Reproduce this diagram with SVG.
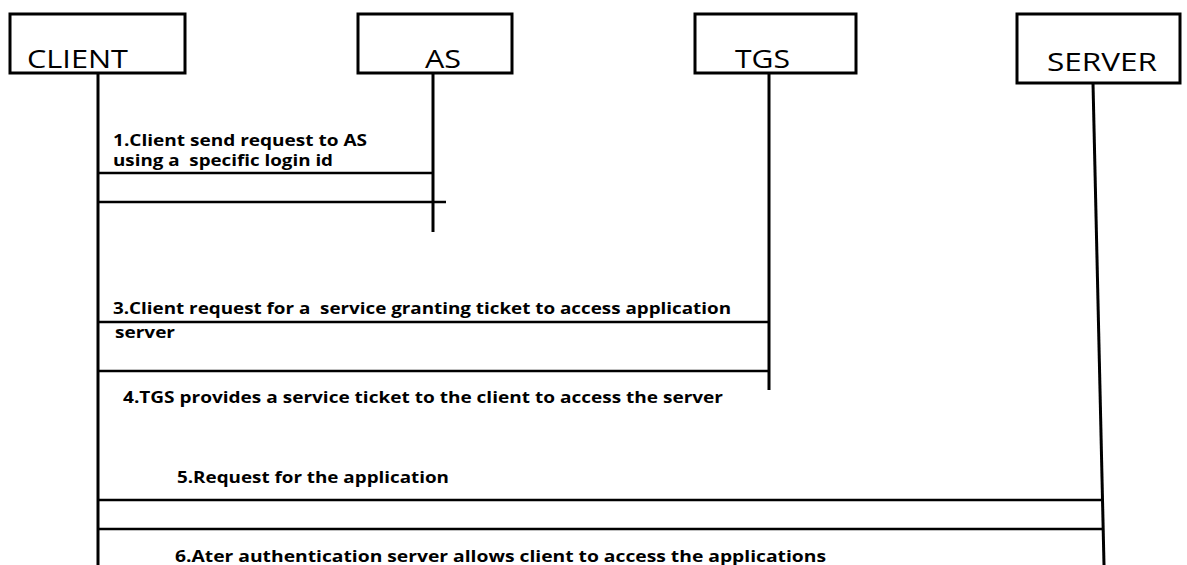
<svg xmlns="http://www.w3.org/2000/svg" width="1187" height="565" viewBox="0 0 1187 565">
<style>
.box{fill:#fff;stroke:#000;stroke-width:3}
.life{stroke:#000;stroke-width:3;fill:none}
.msg{stroke:#000;stroke-width:2.5;fill:none}
.nl{font-family:"Open Sans","Liberation Sans",sans-serif;font-size:26px;fill:#000}
.ml{font-family:"Open Sans","Liberation Sans",sans-serif;font-size:16px;font-weight:bold;fill:#000;white-space:pre}
</style>
<rect width="1187" height="565" fill="#fff"/>
<g id="client">
<rect class="box" x="10" y="14" width="175" height="59"/>
<text class="nl" x="27" y="68" textLength="101" lengthAdjust="spacingAndGlyphs">CLIENT</text>
</g>
<g id="as">
<rect class="box" x="358" y="14" width="154" height="59"/>
<text class="nl" x="425" y="68" textLength="36" lengthAdjust="spacingAndGlyphs">AS</text>
</g>
<g id="tgs">
<rect class="box" x="695" y="14" width="161" height="59"/>
<text class="nl" x="735" y="68" textLength="55" lengthAdjust="spacingAndGlyphs">TGS</text>
</g>
<g id="server">
<rect class="box" x="1017" y="14" width="163" height="69"/>
<text class="nl" x="1047" y="71" textLength="110" lengthAdjust="spacingAndGlyphs">SERVER</text>
</g>
<g id="connectors">
<line class="life" x1="98" y1="73" x2="98" y2="565"/>
<line class="life" x1="433" y1="73" x2="433" y2="232"/>
<line class="life" x1="769" y1="73" x2="769" y2="390"/>
<line class="life" x1="1093" y1="83" x2="1104" y2="565"/>
<line class="msg" x1="98" y1="173" x2="433" y2="173"/>
<line class="msg" x1="98" y1="202" x2="446" y2="202"/>
<line class="msg" x1="98" y1="322" x2="769" y2="322"/>
<line class="msg" x1="98" y1="371" x2="769" y2="371"/>
<line class="msg" x1="98" y1="500" x2="1101" y2="500"/>
<line class="msg" x1="98" y1="529" x2="1102" y2="529"/>
</g>
<g id="labels">
<text class="ml" x="113" y="146" textLength="254" lengthAdjust="spacingAndGlyphs">1.Client send request to AS</text>
<text class="ml" x="113" y="166" textLength="220" lengthAdjust="spacingAndGlyphs">using a  specific login id</text>
<text class="ml" x="113" y="314" textLength="618" lengthAdjust="spacingAndGlyphs">3.Client request for a  service granting ticket to access application</text>
<text class="ml" x="115" y="338" textLength="60" lengthAdjust="spacingAndGlyphs">server</text>
<text class="ml" x="123" y="403" textLength="600" lengthAdjust="spacingAndGlyphs">4.TGS provides a service ticket to the client to access the server</text>
<text class="ml" x="177" y="483" textLength="272" lengthAdjust="spacingAndGlyphs">5.Request for the application</text>
<text class="ml" x="175" y="562" textLength="651" lengthAdjust="spacingAndGlyphs">6.Ater authentication server allows client to access the applications</text>
</g>
</svg>
